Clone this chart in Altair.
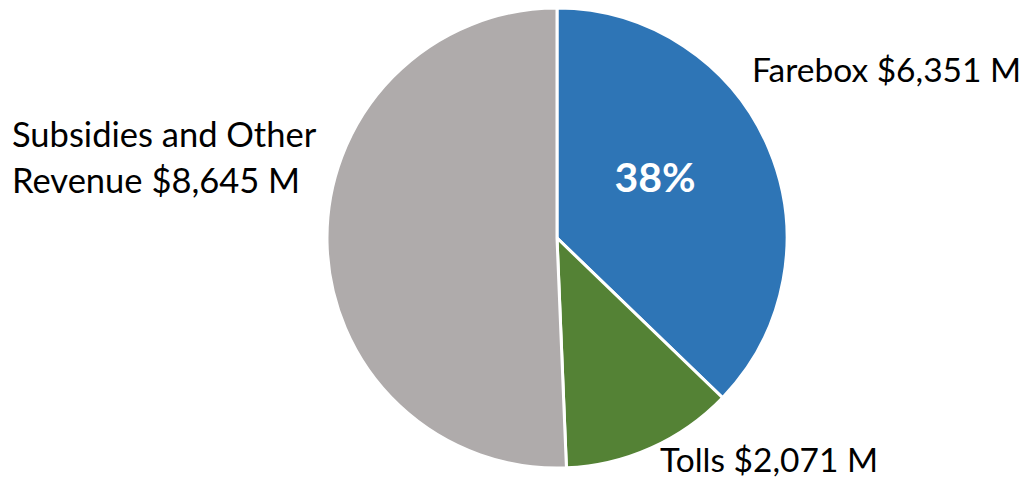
import altair as alt
import pandas as pd

categories = ["Farebox", "Tolls", "Subsidies and Other Revenue"]
values = [6351, 2071, 8645]
colors = ["#2E75B6", "#548235", "#AFABAB"]

df = pd.DataFrame({"category": categories, "value": values, "order": [0, 1, 2]})

CX, CY, R = 549, 230, 230
FONT = "Lato"

pie = alt.Chart(df).mark_arc(radius=R, stroke="white", strokeWidth=3).encode(
    theta=alt.Theta("value:Q", stack=True),
    order=alt.Order("order:Q"),
    color=alt.Color("category:N", scale=alt.Scale(domain=categories, range=colors), legend=None),
    x=alt.value(CX),
    y=alt.value(CY),
)

def label(text, x, y, align="left", size=33.5, color="black", weight="normal"):
    return alt.Chart(df).transform_filter("datum.order == 0").mark_text(
        text=text, align=align, baseline="middle", font=FONT, fontSize=size,
        color=color, fontWeight=weight, lineHeight=46,
    ).encode(x=alt.value(x), y=alt.value(y))

chart = alt.layer(
    pie,
    label("Farebox $6,351 M", 744, 64),
    label(["Subsidies and Other", "Revenue $8,645 M"], 4, 129, size=34.5),
    label("Tolls $2,071 M", 652, 454),
    label("38%", 647, 172, align="center", size=41, color="white", weight="bold"),
).properties(width=1017, height=473, padding=0, autosize=alt.AutoSizeParams(type="none")).configure_view(stroke=None)

chart.save("out.html", embed_options={"renderer": "svg", "actions": False})
